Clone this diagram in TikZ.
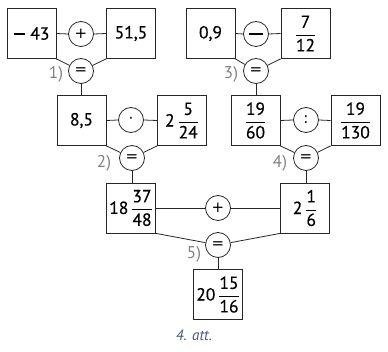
\documentclass[tikz,border=0pt]{standalone}
\usepackage{fontspec}
\setmainfont{PT Sans}[FakeBold=0.5]
\newfontfamily\capfont{PT Sans}
\newfontfamily\opfont{DejaVu Sans}
\newcommand{\fr}[2]{$\displaystyle\frac{\mbox{#1}}{\mbox{#2}}$}
\newcommand{\mbar}{\rule[4.6pt]{11pt}{1.8pt}}
\definecolor{capcol}{HTML}{4A5878}
\tikzset{
  box/.style={draw=black!85, line width=0.8pt, minimum width=49pt, minimum height=50pt, inner sep=0pt, font=\fontsize{17.5}{20}\selectfont},
  op/.style={draw=black!85, line width=0.8pt, circle, minimum size=25pt, inner sep=0pt, font=\opfont\fontsize{15}{18}\selectfont},
  lab/.style={text=black!50, inner sep=0pt, font=\capfont\fontsize{17}{20}\selectfont},
  con/.style={draw=black!85, line width=0.8pt}
}
\begin{document}
\begin{tikzpicture}[x=1pt,y=-1pt]
\useasboundingbox (0,0) rectangle (388,352);
% row 1
\node[box] (b1) at (31.5,33.5) {\mbar\,\,43};
\node[op] (o1) at (81,34) {+};
\node[box] (b2) at (131,33.5) {51,5};
\node[op] (e1) at (81,71) {=};
\node[lab] (l1) at (56,74) {1)};
\node[box] (b3) at (210.5,33.5) {0,9};
\node[op] (o2) at (256,34) {\rule[-0.9pt]{14pt}{2.2pt}};
\node[box] (b4) at (305.5,33.5) {\fr{7}{12}};
\node[op] (e3) at (256,71) {=};
\node[lab] (l3) at (231,74) {3)};
% row 2
\node[box] (b5) at (81.5,120.5) {8,5};
\node[op] (o3) at (131,120) {·};
\node[box] (b6) at (182,120.5) {2\,\fr{5}{24}};
\node[op] (e2) at (132,158) {=};
\node[lab] (l2) at (104,163) {2)};
\node[box] (b7) at (255.5,120.5) {\fr{19}{60}};
\node[op] (o4) at (306,120) {:};
\node[box] (b8) at (355.5,120.5) {\fr{19}{130}};
\node[op] (e4) at (306,158) {=};
\node[lab] (l4) at (280,163) {4)};
% row 3
\node[box] (b9) at (131,208) {18\,\fr{37}{48}};
\node[op] (o5) at (218,208) {+};
\node[box] (b10) at (305,208) {2\,\fr{1}{6}};
\node[op] (e5) at (218,245) {=};
\node[lab] (l5) at (194,254) {5)};
\node[box] (b11) at (218,294.5) {20\,\fr{15}{16}};
\node[text=capcol, font=\capfont\fontsize{15}{18}\selectfont\itshape] (cap) at (194,335) {4. att.};
% connectors
\draw[con] (b1.east) -- (o1.west) (o1.east) -- (b2.west);
\draw[con] (b1.south east) -- (e1) (b2.south west) -- (e1);
\draw[con] (e1.south) -- (e1.south |- b5.north);
\draw[con] (b3.east) -- (o2.west) (o2.east) -- (b4.west);
\draw[con] (b3.south east) -- (e3) (b4.south west) -- (e3);
\draw[con] (e3.south) -- (e3.south |- b7.north);
\draw[con] (b5.east) -- (o3.west) (o3.east) -- (b6.west);
\draw[con] (b5.south east) -- (e2) (b6.south west) -- (e2);
\draw[con] (e2.south) -- (e2.south |- b9.north);
\draw[con] (b7.east) -- (o4.west) (o4.east) -- (b8.west);
\draw[con] (b7.south east) -- (e4) (b8.south west) -- (e4);
\draw[con] (e4.south) -- (e4.south |- b10.north);
\draw[con] (b9.east) -- (o5.west) (o5.east) -- (b10.west);
\draw[con] (b9.south east) -- (e5) (b10.south west) -- (e5);
\draw[con] (e5.south) -- (e5.south |- b11.north);
\end{tikzpicture}
\end{document}
